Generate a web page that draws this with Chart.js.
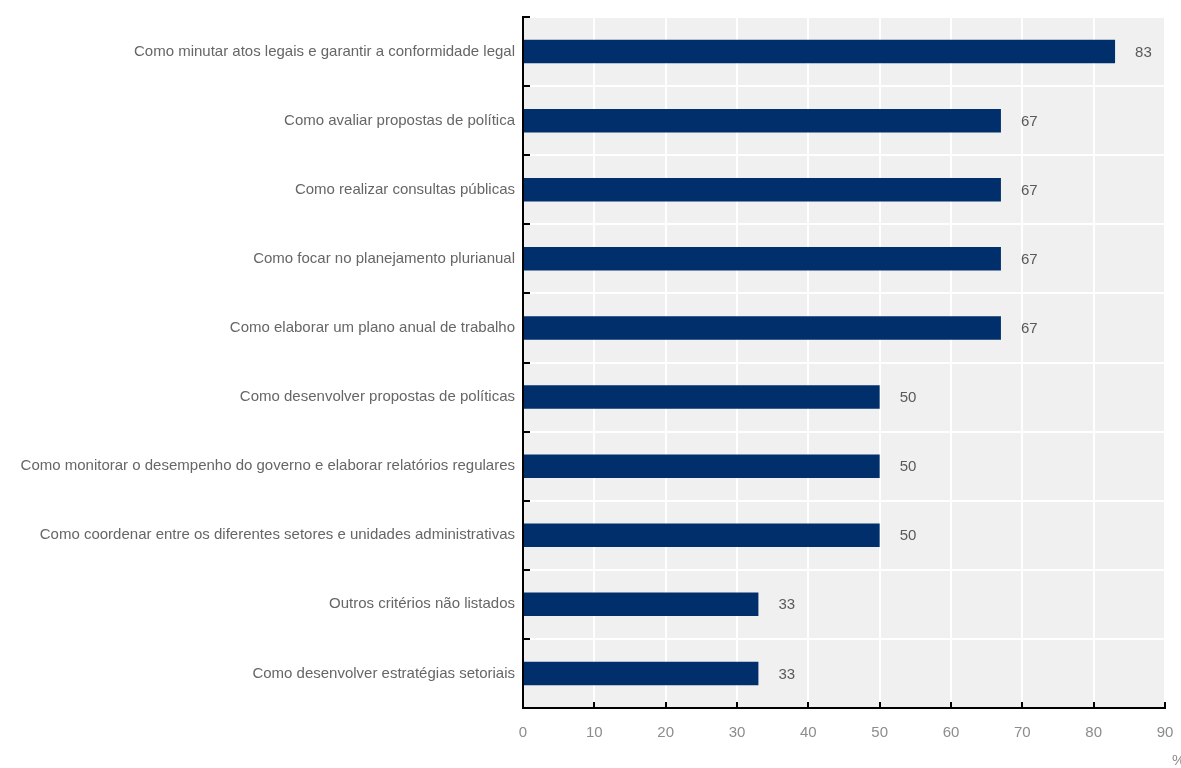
<!DOCTYPE html>
<html>
<head>
<meta charset="utf-8">
<script src="https://cdn.jsdelivr.net/npm/chart.js@4/dist/chart.umd.min.js"></script>
<style>
	html, body { margin:0; padding:0; background:#fff; }
	#wrap { width:1181px; height:768px; position:relative; }
</style>
</head>
<body>
<div id="wrap"><canvas id="chart"></canvas></div>
<script>
// categorias (de cima para baixo)
var categories = [
	'Como minutar atos legais e garantir a conformidade legal',
	'Como avaliar propostas de política',
	'Como realizar consultas públicas',
	'Como focar no planejamento plurianual',
	'Como elaborar um plano anual de trabalho',
	'Como desenvolver propostas de políticas',
	'Como monitorar o desempenho do governo e elaborar relatórios regulares',
	'Como coordenar entre os diferentes setores e unidades administrativas',
	'Outros critérios não listados',
	'Como desenvolver estratégias setoriais'
];
var values = [83, 67, 67, 67, 67, 50, 50, 50, 33, 33];
var xTicks = [0, 10, 20, 30, 40, 50, 60, 70, 80, 90];

var FONT = '"Liberation Sans", Arial, sans-serif';

//fundo cinza da área do gráfico
var plotBg = {
	id: 'plotBg',
	beforeDraw: function (chart) {
		var a = chart.chartArea, ctx = chart.ctx;
		ctx.save();
		ctx.fillStyle = '#f0f0f0';
		ctx.fillRect(a.left, a.top, a.right - a.left, a.bottom - a.top);
		ctx.restore();
	}
};

//marcas dos eixos voltadas para dentro
var innerTicks = {
	id: 'innerTicks',
	afterDraw: function (chart) {
		var ctx = chart.ctx, a = chart.chartArea;
		var xs = chart.scales.x, ys = chart.scales.y;
		ctx.save();
		ctx.strokeStyle = '#000';
		ctx.lineWidth = 2;
		ctx.beginPath();
		xTicks.forEach(function (v) {
			var px = Math.round(xs.getPixelForValue(v));
			ctx.moveTo(px, a.bottom);
			ctx.lineTo(px, a.bottom - 6);
		});
		for (var i = 0; i <= categories.length; i++) {
			var py = Math.round(ys.getPixelForValue(i - 0.5));
			ctx.moveTo(a.left, py);
			ctx.lineTo(a.left + 7, py);
		}
		ctx.stroke();
		ctx.restore();
	}
};

//rótulos de valor e símbolo %
var valueLabels = {
	id: 'valueLabels',
	afterDatasetsDraw: function (chart) {
		var ctx = chart.ctx;
		var meta = chart.getDatasetMeta(0);
		ctx.save();
		ctx.font = '15px ' + FONT;
		ctx.fillStyle = '#595959';
		ctx.textAlign = 'left';
		ctx.textBaseline = 'middle';
		meta.data.forEach(function (bar, i) {
			ctx.fillText(String(values[i]), bar.x + 20, bar.y + 1);
		});
		ctx.fillStyle = '#8c8c8c';
		ctx.fillText('%', chart.chartArea.right + 7, 761);
		ctx.restore();
	}
};

new Chart(document.getElementById('chart'), {
	type: 'bar',
	data: {
		labels: categories,
		datasets: [{
			data: values,
			backgroundColor: '#002f6c',
			borderWidth: 0,
			barPercentage: 0.34,
			categoryPercentage: 1
		}]
	},
	options: {
		indexAxis: 'y',
		responsive: true,
		maintainAspectRatio: false,
		animation: false,
		layout: { padding: { top: 16, right: 16, left: 0, bottom: 0 } },
		plugins: { legend: { display: false }, tooltip: { enabled: false } },
		scales: {
			x: {
				min: 0, max: 90,
				afterBuildTicks: function (s) { s.ticks = xTicks.map(function (v) { return { value: v }; }); },
				afterFit: function (s) { s.height = 60; s.paddingLeft = 0; s.paddingRight = 0; },
				grid: { color: '#ffffff', lineWidth: 2, drawTicks: false },
				border: { color: '#000', width: 2 },
				ticks: { color: '#8c8c8c', font: { family: FONT, size: 15 }, padding: 16 }
			},
			y: {
				afterFit: function (s) { s.width = 523; },
				grid: { color: '#ffffff', lineWidth: 2, drawTicks: false, offset: true },
				border: { color: '#000', width: 2 },
				ticks: { color: '#666', font: { family: FONT, size: 15 }, padding: 8, autoSkip: false }
			}
		}
	},
	plugins: [plotBg, innerTicks, valueLabels]
});
</script>
</body>
</html>
